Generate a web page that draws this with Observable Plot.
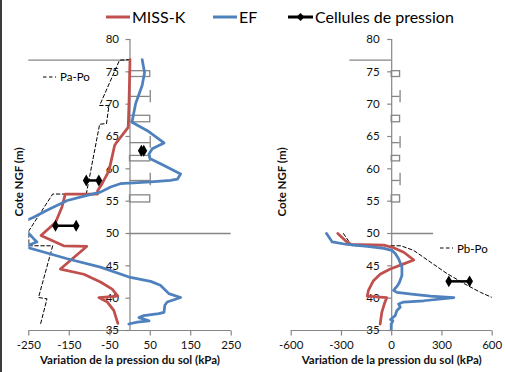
<!DOCTYPE html>
<html><head><meta charset="utf-8">
<script src="https://cdn.jsdelivr.net/npm/d3@7"></script>
<script src="https://cdn.jsdelivr.net/npm/@observablehq/plot@0.6"></script>
<style>
body{margin:0;background:#fff;font-family:Lato,"Noto Sans",sans-serif;color:#000;}
#wrap{position:relative;width:505px;height:372px;overflow:hidden;background:#fff;}
#edge{position:absolute;left:0;top:0;width:2px;height:372px;background:#3c3c3c;z-index:5;}
#panels{position:absolute;left:0;top:30px;display:flex;}
.lg{position:absolute;top:6.7px;height:20px;display:flex;align-items:center;font-size:16px;white-space:nowrap;}
.lg span{margin-left:2px;}
.note{position:absolute;height:14px;display:flex;align-items:center;font-size:11.5px;white-space:nowrap;}
.note span{margin-left:4.5px;}
</style>
</head><body>
<div id="wrap">
  <div id="edge"></div>
  <div class="lg" style="left:106px"><svg width="24" height="20"><line x1="0" x2="24" y1="10" y2="10" stroke="#C0504D" stroke-width="3"/></svg><span>MISS-K</span></div>
  <div class="lg" style="left:213px"><svg width="24" height="20"><line x1="0" x2="24" y1="10" y2="10" stroke="#4F81BD" stroke-width="3"/></svg><span>EF</span></div>
  <div class="lg" style="left:288px"><svg width="25" height="20"><line x1="0" x2="25" y1="10" y2="10" stroke="#000" stroke-width="3"/><path d="M12.5 6 L16.5 10 L12.5 14 L8.5 10 Z" fill="#000"/></svg><span>Cellules de pression</span></div>
  <div id="panels"></div>
  <div class="note" style="left:42.5px;top:69.7px"><svg width="13" height="4"><line x1="0" x2="13" y1="2" y2="2" stroke="#000" stroke-width="1" stroke-dasharray="3.5,2.5"/></svg><span>Pa-Po</span></div>
  <div class="note" style="left:439.5px;top:241.3px"><svg width="13" height="4"><line x1="0" x2="13" y1="2" y2="2" stroke="#000" stroke-width="1" stroke-dasharray="3.5,2.5"/></svg><span>Pb-Po</span></div>
</div>
<script>
// ---------- data ----------
const yTicks = [35, 40, 45, 50, 55, 60, 65, 70, 75, 80];
const xTicksA = [-250, -150, -50, 50, 150, 250];
const xTicksB = [-600, -300, 0, 300, 600];
const xTitle = "Variation de la pression du sol (kPa)";
const yTitle = "Cote NGF (m)";

// Left panel (Pa)
const missA_x = [0, -2.5, -4.5, -33, -38, -48, -52, -69, -80, -80, -160, -168, -184, -220, -164, -107, -172, -114, -73, -44, -30, -77, -56, -40, -30];
const missA_z = [76.9, 70.1, 66.4, 64.1, 63.6, 60.8, 59.7, 57.7, 56.6, 56.1, 56.1, 54.1, 51.7, 49.7, 48.1, 48.0, 44.5, 43.7, 42.5, 41.4, 40.3, 40.1, 39.4, 38.1, 36.1];
const efA_x = [30, 36, 30, 14, 8, 5, 43, 84, 55, 47, 49, 84, 125, 117, 100, 51, -24, -48, -73, -106, -155, -205, -238, -285, -250, -238, -230, -242, -262, -155, -73, 1, 51, 75, 96, 125, 92, 86, 84, 71, 34, 22, 47, 18, -3];
const efA_z = [76.9, 74.9, 72.9, 70.1, 68.2, 67.2, 65.9, 64.0, 63.1, 62.3, 61.6, 60.5, 59.2, 58.4, 58.2, 58.0, 57.7, 57.2, 56.4, 55.9, 55.1, 53.6, 52.5, 51.3, 50.0, 49.2, 48.7, 48.4, 48.0, 46.1, 44.8, 43.2, 42.6, 42.0, 40.7, 40.1, 39.4, 38.9, 37.8, 37.6, 37.3, 37.0, 36.5, 36.3, 36.0];
const paPo_x = [0, -26, -75, -52, -58, -75, -108, -191, -250, -250, -191, -226, -205, -221];
const paPo_z = [76.9, 76.8, 69.8, 69.8, 67.0, 66.9, 56.1, 56.1, 50.4, 48.1, 48.1, 40.1, 39.9, 36.0];
const cellsA_x1 = [-108, -184, 28];
const cellsA_x2 = [-77, -133, 34];
const cellsA_z = [58.2, 51.2, 62.8];

// Right panel (Pb)
const missB_x = [-322, -264, -240, -47, 11, 72, 132, 72, -9, -69, -109, -139, -146, -29, -43, -59, -69];
const missB_z = [50.0, 48.6, 48.3, 48.2, 47.8, 47.1, 45.9, 45.3, 44.5, 43.7, 42.7, 41.2, 40.3, 40.1, 39.2, 37.8, 36.0];
const efB_x = [-389, -355, -266, -146, -47, 1, 21, 41, 61, 61, 47, 37, 11, 31, 132, 232, 371, 191, 71, 41, 51, 31, 21, 11, -7, 7, -3, -3];
const efB_z = [50.0, 48.7, 48.3, 48.0, 47.7, 47.4, 46.9, 46.1, 44.8, 43.5, 42.5, 42.0, 41.2, 40.9, 40.6, 40.3, 40.1, 39.6, 39.4, 39.1, 38.6, 38.1, 37.3, 37.1, 36.7, 36.5, 36.0, 35.0];
const pbPo_x = [-288, -238, 55, 130, 230, 330, 450, 530, 600];
const pbPo_z = [50.0, 48.1, 48.1, 47.4, 45.6, 43.8, 42.0, 40.9, 40.1];
const cellsB_x1 = [341];
const cellsB_x2 = [465];
const cellsB_z = [42.6];

// Shared: ground levels and cell housings
const ground_z = [76.8, 50];
const ground_x1 = [-250, 0];
const ground_x2 = [0, 250];
const box_top = [75.1, 68.2, 62.0, 55.9];
const box_bottom = [74.2, 67.2, 61.15, 54.8];
const box_len = [50, 50, 50, 50];
const tee_z = [71.2, 64.05, 58.2];
const tee_capHi = [72.1, 65.0, 59.3];
const tee_capLo = [70.2, 63.2, 57.4];
const tee_len = [50, 50, 50];

// ---------- drawing ----------
const gray = "#868686";
const red = "#C0504D";
const blue = "#4F81BD";
const tickLeft = {draw(c) { c.moveTo(0, 0); c.lineTo(-4.5, 0); }};
const tickDown = {draw(c) { c.moveTo(0, 0); c.lineTo(0, 5); }};
const idx = a => d3.range(a.length);

function panel(cfg) {
  const yDom = [d3.min(yTicks), d3.max(yTicks)];
  const xDom = [d3.min(cfg.xTicks), d3.max(cfg.xTicks)];
  const cellEnds = idx(cfg.cz).flatMap(i => [{x: cfg.cx1[i], z: cfg.cz[i]}, {x: cfg.cx2[i], z: cfg.cz[i]}]);
  return Plot.plot({
    width: cfg.width, height: 342,
    marginLeft: cfg.ml, marginRight: cfg.mr, marginTop: 9, marginBottom: 42,
    x: {domain: xDom, axis: null},
    y: {domain: yDom, axis: null},
    style: {fontFamily: "Lato, 'Noto Sans', sans-serif", fontSize: "11.5px", color: "#000", background: "transparent", overflow: "visible"},
    marks: [
      Plot.ruleY(idx(ground_z), {y: i => ground_z[i], x1: i => ground_x1[i], x2: i => ground_x2[i], stroke: gray, strokeWidth: 1.3}),
      Plot.rect(idx(box_top), {x1: 0, x2: i => box_len[i], y1: i => box_bottom[i], y2: i => box_top[i], fill: "none", stroke: gray, strokeWidth: 1.3}),
      Plot.ruleY(idx(tee_z), {y: i => tee_z[i], x1: 0, x2: i => tee_len[i], stroke: gray, strokeWidth: 1.3}),
      Plot.ruleX(idx(tee_z), {x: i => tee_len[i], y1: i => tee_capLo[i], y2: i => tee_capHi[i], stroke: gray, strokeWidth: 1.3}),
      Plot.ruleX([0], {y1: yDom[0], y2: yDom[1], stroke: gray, strokeWidth: 1.2}),
      Plot.ruleY([yDom[0]], {x1: xDom[0], x2: xDom[1], stroke: gray, strokeWidth: 1.2}),
      Plot.dot(yTicks, {x: 0, y: d => d, symbol: tickLeft, fill: "none", stroke: gray, strokeWidth: 1.2}),
      Plot.text(yTicks, {x: 0, y: d => d, text: d => String(d), textAnchor: "end", dx: cfg.ydx, fill: "#111"}),
      Plot.dot(cfg.xTicks, {x: d => d, y: yDom[0], symbol: tickDown, fill: "none", stroke: gray, strokeWidth: 1.2}),
      Plot.text(cfg.xTicks, {x: d => d, y: yDom[0], text: d => String(d), dy: 15, fill: "#111"}),
      Plot.text([xTitle], {frameAnchor: "bottom", dy: 33, fontWeight: "bold", fontSize: 11.5, fill: "#111"}),
      Plot.text([yTitle], {frameAnchor: "left", textAnchor: "middle", rotate: -90, dx: -9, dy: -3, fontWeight: "bold", fontSize: 11.5, fill: "#111"}),
      Plot.line(idx(cfg.dx), {x: i => cfg.dx[i], y: i => cfg.dz[i], stroke: "#000", strokeWidth: 1, strokeDasharray: "3.5,2.5", clip: true}),
      Plot.line(idx(cfg.rx), {x: i => cfg.rx[i], y: i => cfg.rz[i], stroke: red, strokeWidth: 2.75, strokeLinejoin: "round", clip: true}),
      Plot.line(idx(cfg.bx), {x: i => cfg.bx[i], y: i => cfg.bz[i], stroke: blue, strokeWidth: 2.75, strokeLinejoin: "round", clip: true}),
      Plot.link(idx(cfg.cz), {x1: i => cfg.cx1[i], x2: i => cfg.cx2[i], y1: i => cfg.cz[i], y2: i => cfg.cz[i], stroke: "#000", strokeWidth: 2.5}),
      Plot.dot(cellEnds, {x: "x", y: "z", symbol: "diamond", r: 3.6, fill: "#000"})
    ]
  });
}

const left = panel({width: 255, ml: 28.3, mr: 24.3, xTicks: xTicksA, ydx: -11,
  rx: missA_x, rz: missA_z, bx: efA_x, bz: efA_z, dx: paPo_x, dz: paPo_z,
  cx1: cellsA_x1, cx2: cellsA_x2, cz: cellsA_z});
const right = panel({width: 250, ml: 35.7, mr: 13.3, xTicks: xTicksB, ydx: -12,
  rx: missB_x, rz: missB_z, bx: efB_x, bz: efB_z, dx: pbPo_x, dz: pbPo_z,
  cx1: cellsB_x1, cx2: cellsB_x2, cz: cellsB_z});
document.getElementById("panels").append(left, right);
</script>
</body></html>
